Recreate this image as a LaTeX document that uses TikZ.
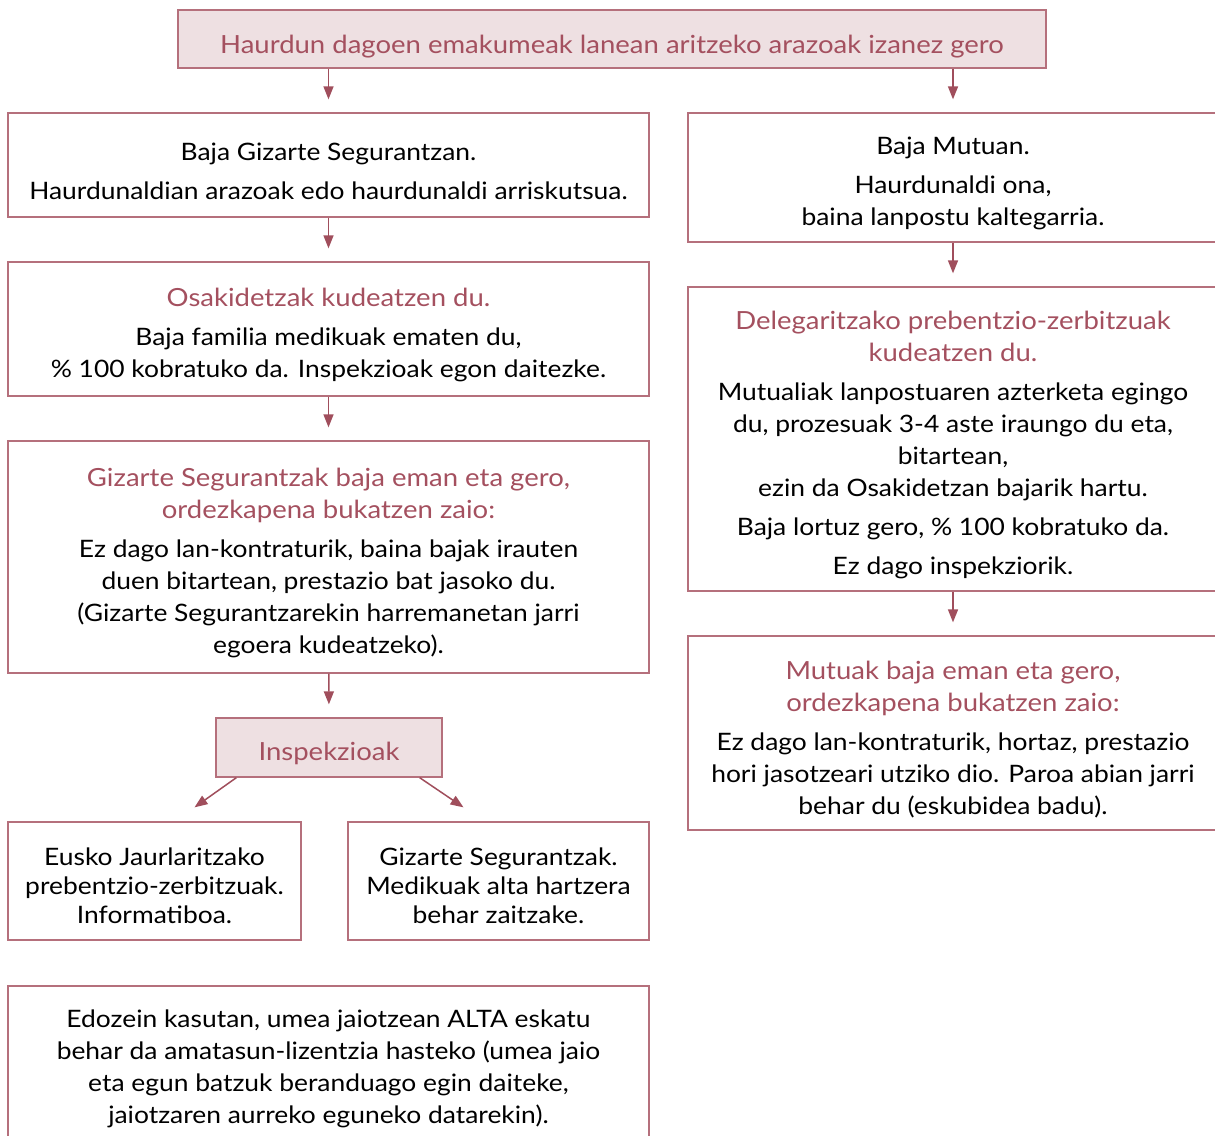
\documentclass[tikz,border=0pt]{standalone}
\usepackage{fontspec}
\setmainfont{Lato}[FakeStretch=1.1]
\usetikzlibrary{arrows.meta,calc}
\definecolor{bcol}{HTML}{B5707C}
\definecolor{acol}{HTML}{A04E5C}
\definecolor{tcol}{HTML}{A4505F}
\definecolor{fcol}{HTML}{EEE0E2}
\tikzset{
  x=1pt,y=-1pt,
  box/.style={draw=bcol,line width=1.3pt,align=center,inner sep=0pt,font=\fontsize{24}{32}\selectfont},
  pinkbox/.style={box,fill=fcol,text=tcol,font=\fontsize{25}{32}\selectfont},
  arr/.style={draw=acol,line width=1.5pt,-{Triangle[length=13pt,width=10pt]}},
}
\newcommand{\ttl}[1]{{\color{tcol}\fontsize{25}{32}\selectfont #1}}
\newcommand{\dnr}[1]{\rule{0pt}{#1}}
\begin{document}
\begin{tikzpicture}
\useasboundingbox (0,0) rectangle (1215,1135);
% top
\node[pinkbox,minimum width=868,minimum height=58] (top) at (612,39) {\dnr{33pt}Haurdun dagoen emakumeak lanean aritzeko arazoak izanez gero};
% left column
\node[box,minimum width=641,minimum height=104] (l1) at (328.5,165) {\dnr{30pt}Baja Gizarte Segurantzan.\\[7pt]Haurdunaldian arazoak edo haurdunaldi arriskutsua.};
\node[box,minimum width=641,minimum height=134] (l2) at (328.5,329) {\dnr{31pt}\ttl{Osakidetzak kudeatzen du.}\\[7pt]Baja familia medikuak ematen du,\\\% 100 kobratuko da. Inspekzioak egon daitezke.};
\node[box,minimum width=641,minimum height=232] (l3) at (328.5,557) {\dnr{31pt}\ttl{Gizarte Segurantzak baja eman eta gero,}\\\ttl{ordezkapena bukatzen zaio:}\\[7pt]Ez dago lan-kontraturik, baina bajak irauten\\duen bitartean, prestazio bat jasoko du.\\(Gizarte Segurantzarekin harremanetan jarri\\egoera kudeatzeko).};
\node[pinkbox,minimum width=226,minimum height=59] (insp) at (329,747.5) {\dnr{31pt}Inspekzioak};
\node[box,minimum width=293,minimum height=118] (e1) at (154.5,881) {\dnr{27pt}Eusko Jaurlaritzako\\[-3pt]prebentzio-zerbitzuak.\\[-3pt]Informatiboa.};
\node[box,minimum width=301,minimum height=118] (e2) at (498.5,881) {\dnr{27pt}Gizarte Segurantzak.\\[-3pt]Medikuak alta hartzera\\[-3pt]behar zaitzake.};
\node[box,minimum width=641,minimum height=166] (l5) at (328.5,1069) {Edozein kasutan, umea jaiotzean ALTA eskatu\\behar da amatasun-lizentzia hasteko (umea jaio\\eta egun batzuk beranduago egin daiteke,\\jaiotzaren aurreko eguneko datarekin).};
% right column
\node[box,minimum width=530,minimum height=129] (r1) at (953,177.5) {\dnr{30pt}Baja Mutuan.\\[7pt]Haurdunaldi ona,\\baina lanpostu kaltegarria.};
\node[box,minimum width=530,minimum height=304] (r2) at (953,439) {\dnr{31pt}\ttl{Delegaritzako prebentzio-zerbitzuak}\\\ttl{kudeatzen du.}\\[7pt]Mutualiak lanpostuaren azterketa egingo\\du, prozesuak 3-4 aste iraungo du eta,\\bitartean,\\ezin da Osakidetzan bajarik hartu.\\[7pt]Baja lortuz gero, \% 100 kobratuko da.\\[7pt]Ez dago inspekziorik.};
\node[box,minimum width=530,minimum height=194] (r3) at (953,733) {\dnr{32pt}\ttl{Mutuak baja eman eta gero,}\\\ttl{ordezkapena bukatzen zaio:}\\[7pt]Ez dago lan-kontraturik, hortaz, prestazio\\hori jasotzeari utziko dio. Paroa abian jarri\\behar du (eskubidea badu).};
% arrows
\draw[arr,shorten >=13pt] (top.south -| l1.north) -- (l1.north);
\draw[arr,shorten >=13pt] (top.south -| r1.north) -- (r1.north);
\draw[arr,shorten >=13pt] (l1) -- (l2);
\draw[arr,shorten >=13pt] (l2) -- (l3);
\draw[arr,shorten >=13pt] (l3) -- (insp);
\draw[arr,shorten >=13pt] (r1) -- (r2);
\draw[arr,shorten >=13pt] (r2) -- (r3);
\draw[arr] ($(insp.south west)+(21,0)$) -- ($(e1.north)+(40,-14)$);
\draw[arr] ($(insp.south east)+(-23,0)$) -- ($(e2.north)+(-35,-14)$);
\end{tikzpicture}
\end{document}
